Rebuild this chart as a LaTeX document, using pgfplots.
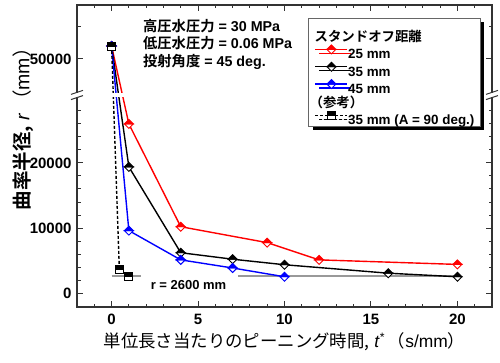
\documentclass[border=0pt]{standalone}
\usepackage{pgfplots}
\pgfplotsset{compat=1.18}
\usepackage{fontspec}
\setmainfont{Liberation Sans}
\newfontfamily\cjk{Noto Sans CJK JP}[BoldFont={Noto Sans CJK JP Bold}]
\usetikzlibrary{shadows}

\pgfdeclareplotmark{hdiamond}{%
  \pgfscope
  \pgfsetfillcolor{white}%
  \pgfpathmoveto{\pgfqpoint{-\pgfplotmarksize}{0pt}}%
  \pgfpathlineto{\pgfqpoint{0pt}{-\pgfplotmarksize}}%
  \pgfpathlineto{\pgfqpoint{\pgfplotmarksize}{0pt}}%
  \pgfpathclose
  \pgfusepathqfillstroke
  \endpgfscope
  \pgfpathmoveto{\pgfqpoint{-\pgfplotmarksize}{0pt}}%
  \pgfpathlineto{\pgfqpoint{0pt}{\pgfplotmarksize}}%
  \pgfpathlineto{\pgfqpoint{\pgfplotmarksize}{0pt}}%
  \pgfpathclose
  \pgfusepathqfillstroke
}
\pgfdeclareplotmark{hsquare}{%
  \pgfscope
  \pgfsetfillcolor{white}%
  \pgfpathrectanglecorners{\pgfqpoint{-\pgfplotmarksize}{-\pgfplotmarksize}}{\pgfqpoint{\pgfplotmarksize}{0pt}}%
  \pgfusepathqfillstroke
  \endpgfscope
  \pgfpathrectanglecorners{\pgfqpoint{-\pgfplotmarksize}{0pt}}{\pgfqpoint{\pgfplotmarksize}{\pgfplotmarksize}}%
  \pgfusepathqfillstroke
}

\begin{document}
\begin{tikzpicture}
\begin{axis}[
  at={(0pt,0pt)}, anchor=south west,
  width=415pt, height=302pt, scale only axis,
  xmin=-2, xmax=22, ymin=-2150, ymax=44300,
  clip=false,
  axis line style={black!80, line width=1.2pt},
  xtick={0,5,10,15,20},
  minor xtick={-1,1,2,3,4,6,7,8,9,11,12,13,14,16,17,18,19,21},
  ytick={0,10000,20000,36000}, yticklabels={0,10000,20000,50000},
  minor ytick={2000,4000,6000,8000,12000,14000,16000,18000,22000,24000,26000,28000,41000},
  tick align=inside, major tick length=6pt, minor tick length=3.5pt,
  tick style={black!80, line width=1pt},
  ticklabel style={font=\fontsize{15}{18}\selectfont\bfseries},
  /pgf/number format/assume math mode=true,
  scaled y ticks=false,
  xticklabel style={yshift=-3.5pt},
  yticklabel style={xshift=-2pt},
  xlabel={{\cjk 単位長さ当たりのピーニング時間,} \textit{t}\textsuperscript{*}\,{\cjk （}s/mm{\cjk ）}},
  xlabel style={at={(axis description cs:0.5,0)}, anchor=center, yshift=-35pt, font=\fontsize{17.4}{20}\selectfont},
  ylabel={{\cjk\bfseries 曲率半径,} \textit{r}\,{\cjk （}mm{\cjk ）}},
  ylabel style={at={(axis description cs:-0.13,0.605)}, anchor=center, font=\fontsize{19.5}{22}\selectfont},
  legend image code/.code={\draw[mark repeat=2,mark phase=2,#1] plot coordinates {(0pt,4.6pt)(16pt,4.6pt)(32pt,4.6pt)};},
  legend cell align=left,
  legend style={at={(0.973,0.957)}, anchor=north east, draw=black!60, line width=0.8pt, fill=white,
    drop shadow={shadow xshift=4pt, shadow yshift=-4pt, fill=black, opacity=1},
    font=\fontsize{13.4}{16}\selectfont\bfseries,
    inner xsep=6pt, inner ysep=0pt, row sep=2pt,
    nodes={inner sep=0pt, text height=11pt, text depth=1.5pt}},
]
% reference line r = 2600 mm
\addplot[forget plot, black!40, line width=2pt] coordinates {(0,2600)(1.7,2600)};
\addplot[forget plot, black!40, line width=2pt] coordinates {(7.3,2600)(20,2600)};

\addlegendimage{empty legend}
\addlegendentry[text height=23pt]{\makebox[0pt][l]{\hspace*{-34pt}\cjk\bfseries スタンドオフ距離}}

\addplot[red, line width=1.4pt, mark=hdiamond, mark size=4.5pt, mark options={solid, line width=0.9pt}]
 coordinates {(0,38000)(1,26000)(4,10200)(9,7750)(12,5100)(20,4400)};
\addlegendentry{25 mm}
\addplot[black, line width=1.4pt, mark=hdiamond, mark size=4.5pt, mark options={solid, line width=0.9pt}]
 coordinates {(0,38000)(1,19400)(4,6200)(7,5200)(10,4350)(16,3050)(20,2500)};
\addlegendentry{35 mm}
\addplot[blue, line width=1.4pt, mark=hdiamond, mark size=4.5pt, mark options={solid, line width=0.9pt}]
 coordinates {(0,38000)(1,9600)(4,5100)(7,3850)(10,2500)};
\addlegendentry{45 mm}

\addlegendimage{empty legend}
\addlegendentry{\makebox[0pt][l]{\hspace*{-39pt}\cjk\bfseries （参考）}}

\addplot[black, line width=1.4pt, dash pattern=on 3pt off 2pt, mark=hsquare, mark size=4pt, mark options={solid, line width=0.9pt}]
 coordinates {(0,38000)(0.45,3550)(1,2600)};
\addlegendentry{35 mm (A = 90 deg.)}

% axis break
\fill[white] (axis cs:-2.4,30150) rectangle (axis cs:22.4,30770);
\draw[black!80, line width=1pt] (axis cs:-2,30460) ++(-6pt,-4.6pt) -- ++(12pt,4pt);
\draw[black!80, line width=1pt] (axis cs:-2,30460) ++(-6pt,0.6pt) -- ++(12pt,4pt);
\draw[black!80, line width=1pt] (axis cs:22,30460) ++(-6pt,-4.6pt) -- ++(12pt,4pt);
\draw[black!80, line width=1pt] (axis cs:22,30460) ++(-6pt,0.6pt) -- ++(12pt,4pt);

% annotations
\node[anchor=base west, font=\fontsize{14.3}{17}\selectfont\bfseries] at (axis cs:1.62,40150) {{\cjk 高圧水圧力} = 30 MPa};
\node[anchor=base west, font=\fontsize{14.3}{17}\selectfont\bfseries] at (axis cs:1.62,37540) {{\cjk 低圧水圧力} = 0.06 MPa};
\node[anchor=base west, font=\fontsize{14.3}{17}\selectfont\bfseries] at (axis cs:1.62,34770) {{\cjk 投射角度} = 45 deg.};
\node[anchor=base, font=\fontsize{13}{16}\selectfont\bfseries] at (axis cs:4.45,615) {r = 2600 mm};
\end{axis}
\pgfresetboundingbox
\path[use as bounding box] (-77pt,-55pt) rectangle (423pt,307pt);
\end{tikzpicture}
\end{document}
